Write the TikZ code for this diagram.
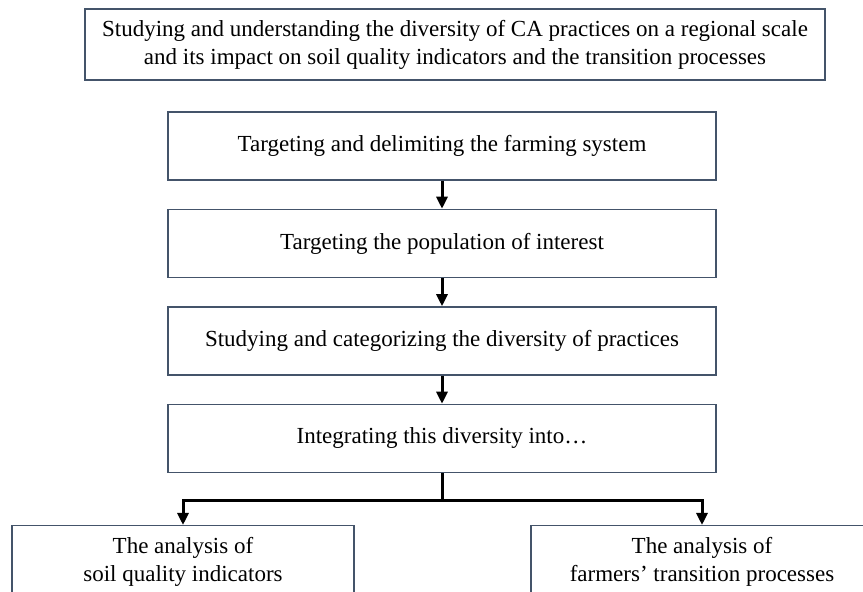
\documentclass[tikz,border=0pt]{standalone}
\usepackage{fontspec}
\setmainfont{Liberation Serif}
\usetikzlibrary{arrows.meta,positioning}
\definecolor{slate}{HTML}{44546A}

\begin{document}
\begin{tikzpicture}[
  x=1pt, y=1pt,
  node distance=14pt,
  font=\fontsize{11.5}{14}\selectfont,
  goalbox/.style={draw=slate, line width=0.75pt, minimum width=370pt, minimum height=35.5pt, align=center},
  flowstep/.style={draw=slate, line width=0.75pt, minimum width=274pt, minimum height=34pt, align=center},
  leafbox/.style={draw=slate, line width=0.75pt, minimum width=171pt, minimum height=36pt, align=center, anchor=north},
  arrow/.style={-{Triangle[length=6pt,width=5.5pt]}, line width=1.5pt, draw=black}
]
\useasboundingbox (0,0) rectangle (431.5,-296);
\node[goalbox] (goal) at (227.5,-22.25) {Studying and understanding the diversity of CA practices on a regional scale\\and its impact on soil quality indicators and the transition processes};
\node[flowstep] (s1) at (221,-73) {Targeting and delimiting the farming system};
\node[flowstep, below=of s1] (s2) {Targeting the population of interest};
\node[flowstep, below=of s2] (s3) {Studying and categorizing the diversity of practices};
\node[flowstep, below=of s3] (s4) {Integrating this diversity into…};
\node[leafbox] (soil) at (91.5,-262.5) {The analysis of\\soil quality indicators};
\node[leafbox] (farm) at (351,-262.5) {The analysis of\\farmers’ transition processes};
\foreach \a/\b in {s1/s2,s2/s3,s3/s4}
  \draw[arrow] (\a) -- (\b);
\coordinate[below=13.5pt of s4.south] (split);
\draw[line width=1.5pt] (s4) -- (split);
\draw[arrow] (split) -| (soil);
\draw[arrow] (split) -| (farm);
\end{tikzpicture}
\end{document}
